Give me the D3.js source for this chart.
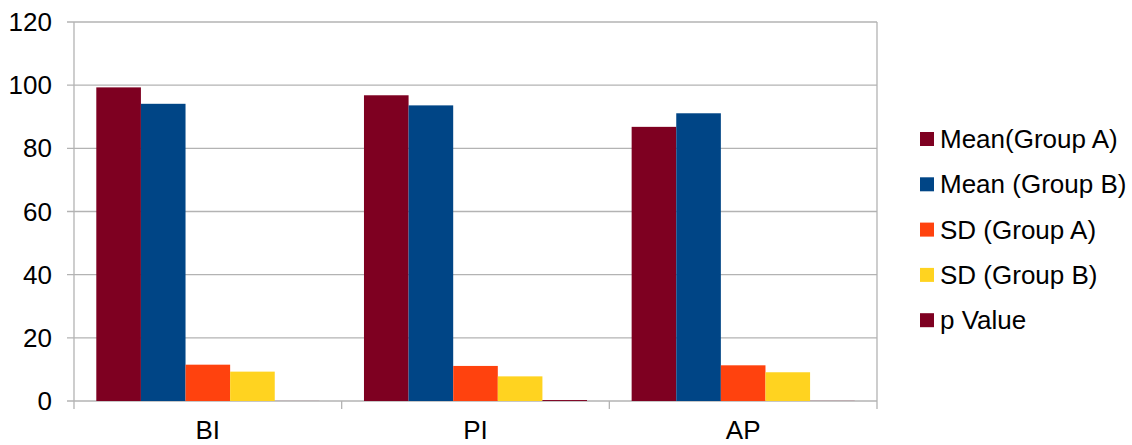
<!DOCTYPE html>
<html>
<head>
<meta charset="utf-8">
<script src="https://cdn.jsdelivr.net/npm/d3@7"></script>
<style>
  html, body { margin: 0; padding: 0; background: #fff; }
  svg { display: block; font-family: "Liberation Sans", Arial, sans-serif; }
</style>
</head>
<body>
<svg id="chart" width="1132" height="445"></svg>
<script>
// Categories along the x axis
const categories = ["BI", "PI", "AP"];

// Series names, in drawing / legend order
const seriesNames = ["Mean(Group A)", "Mean (Group B)", "SD (Group A)", "SD (Group B)", "p Value"];

// Values per series, one per category
const meanGroupA = [99.3, 96.8, 86.8];
const meanGroupB = [94.1, 93.6, 91.1];
const sdGroupA   = [11.5, 11.1, 11.3];
const sdGroupB   = [9.3, 7.8, 9.1];
const pValue     = [0.02, 0.3, 0.04];

// Y axis ticks
const yTicks = [0, 20, 40, 60, 80, 100, 120];

const seriesColors = ["#7e0021", "#004586", "#ff420e", "#ffd320", "#7e0021"];
const seriesValues = [meanGroupA, meanGroupB, sdGroupA, sdGroupB, pValue];

const svg = d3.select("#chart");
const plot = { left: 74, right: 877, top: 22, bottom: 401 };
const gridColor = "#b3b3b3";
const fontSize = 26;

const x0 = d3.scaleBand().domain(categories).range([plot.left, plot.right]).padding(0);
const x1 = d3.scaleBand().domain(seriesNames).range([0, x0.bandwidth()])
  .paddingInner(0).paddingOuter(0.5);
const y = d3.scaleLinear().domain([0, 120]).range([plot.bottom, plot.top]);

// Horizontal grid lines (extend left as tick marks)
svg.append("g")
  .selectAll("line")
  .data(yTicks)
  .join("line")
  .attr("x1", plot.left - 7)
  .attr("x2", plot.right)
  .attr("y1", d => y(d))
  .attr("y2", d => y(d))
  .attr("stroke", gridColor)
  .attr("stroke-width", 1.3);

// Left and right frame lines
svg.append("line")
  .attr("x1", plot.left).attr("x2", plot.left)
  .attr("y1", plot.top).attr("y2", plot.bottom)
  .attr("stroke", gridColor).attr("stroke-width", 1.3);
svg.append("line")
  .attr("x1", plot.right).attr("x2", plot.right)
  .attr("y1", plot.top).attr("y2", plot.bottom)
  .attr("stroke", gridColor).attr("stroke-width", 1.3);

// Category boundary ticks below the baseline
const boundaries = categories.map(c => x0(c)).concat([plot.right]);
svg.append("g")
  .selectAll("line")
  .data(boundaries)
  .join("line")
  .attr("x1", d => d).attr("x2", d => d)
  .attr("y1", plot.bottom).attr("y2", plot.bottom + 8)
  .attr("stroke", gridColor).attr("stroke-width", 1.3);

// Y tick labels
svg.append("g")
  .selectAll("text")
  .data(yTicks)
  .join("text")
  .attr("x", plot.left - 22)
  .attr("y", d => y(d))
  .attr("dy", "0.35em")
  .attr("text-anchor", "end")
  .attr("font-size", fontSize)
  .attr("fill", "#000")
  .text(d => d);

// Bars
const groups = svg.append("g")
  .selectAll("g")
  .data(categories)
  .join("g")
  .attr("transform", c => `translate(${x0(c)},0)`);

groups.selectAll("rect")
  .data((c, ci) => seriesNames.map((s, si) => ({ s, si, v: seriesValues[si][ci] })))
  .join("rect")
  .attr("x", d => x1(d.s))
  .attr("width", x1.bandwidth())
  .attr("y", d => y(d.v))
  .attr("height", d => y(0) - y(d.v))
  .attr("fill", d => seriesColors[d.si]);

// Category labels
svg.append("g")
  .selectAll("text")
  .data(categories)
  .join("text")
  .attr("x", c => x0(c) + x0.bandwidth() / 2)
  .attr("y", 439)
  .attr("text-anchor", "middle")
  .attr("font-size", fontSize)
  .attr("fill", "#000")
  .text(c => c);

// Legend
const legend = svg.append("g")
  .selectAll("g")
  .data(seriesNames)
  .join("g")
  .attr("transform", (d, i) => `translate(920, ${139 + i * 45.3})`);

legend.append("rect")
  .attr("x", 0).attr("y", -7)
  .attr("width", 14).attr("height", 14)
  .attr("fill", (d, i) => seriesColors[i]);

legend.append("text")
  .attr("x", 20)
  .attr("y", 0)
  .attr("dy", "0.35em")
  .attr("font-size", fontSize)
  .attr("fill", "#000")
  .text(d => d);
</script>
</body>
</html>
